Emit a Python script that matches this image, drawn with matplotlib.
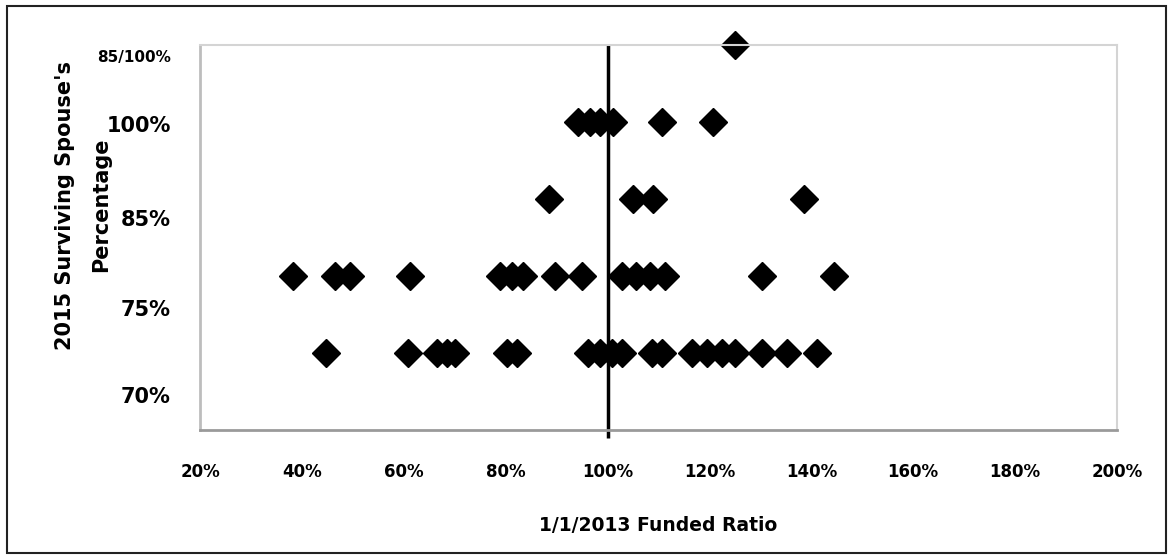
import numpy as np
import matplotlib
matplotlib.use("Agg")
import matplotlib.pyplot as plt
from matplotlib.patches import Rectangle

# Funded ratios (1/1/2013) for each 2015 surviving spouse's percentage category
funded_70 = [0.447, 0.608, 0.665, 0.685, 0.70, 0.803, 0.822,
             0.962, 0.985, 1.009, 1.028, 1.087, 1.107, 1.166, 1.195,
             1.225, 1.25, 1.303, 1.352, 1.411]
funded_75 = [0.383, 0.465, 0.494, 0.612, 0.789, 0.813, 0.834, 0.897, 0.95,
             1.028, 1.056, 1.083, 1.113, 1.303, 1.445]
funded_85 = [0.885, 1.05, 1.09, 1.385]
funded_100 = [0.942, 0.966, 0.985, 1.011, 1.107, 1.207]
funded_85_100 = [1.25]

categories = ["70%", "75%", "85%", "100%", "85/100%"]
series = [funded_70, funded_75, funded_85, funded_100, funded_85_100]

x_ticks = [0.2, 0.4, 0.6, 0.8, 1.0, 1.2, 1.4, 1.6, 1.8, 2.0]
x_labels = ["20%", "40%", "60%", "80%", "100%", "120%", "140%", "160%", "180%", "200%"]

# where the (slightly misplaced) category labels sit on the y axis
y_label_pos = [0.45, 1.58, 2.75, 3.97, 4.86]
y_label_size = [15, 15, 15, 15, 11]

plt.rcParams['font.family'] = ['DejaVu Sans']
plt.rcParams['font.weight'] = 'bold'

fig = plt.figure(figsize=(11.74, 5.59), dpi=100)
ax = fig.add_axes([200 / 1174, 1 - 430 / 559, 917 / 1174, 385 / 559])

for i, xs in enumerate(series):
    ax.plot(xs, np.full(len(xs), i + 1), linestyle='none', marker='D',
            markersize=14, color='black', clip_on=False)

# 100% funded reference line
ax.vlines(1.0, -0.1, 5, color='black', linewidth=2.5, clip_on=False)

ax.set_xlim(0.2, 2.0)
ax.set_ylim(0, 5)
ax.set_xticks(x_ticks)
ax.set_xticklabels(x_labels, fontsize=12, fontweight='bold')
ax.tick_params(axis='x', length=0, pad=24)

ax.set_yticks(y_label_pos)
ax.set_yticklabels(categories, fontweight='bold')
for lab, fs in zip(ax.get_yticklabels(), y_label_size):
    lab.set_fontsize(fs)
ax.tick_params(axis='y', length=0, pad=21)

for side in ['top', 'right']:
    ax.spines[side].set_color('#d4d4d4')
    ax.spines[side].set_linewidth(1.5)
ax.spines['left'].set_color('#bdbdbd')
ax.spines['left'].set_linewidth(2)
ax.spines['bottom'].set_color('#9a9a9a')
ax.spines['bottom'].set_linewidth(2)

ax.set_xlabel("1/1/2013 Funded Ratio", fontsize=13.5, fontweight='bold', labelpad=25)
ax.set_ylabel("2015 Surviving Spouse's\nPercentage", fontsize=15,
              fontweight='bold', linespacing=2.0)
ax.yaxis.set_label_coords(-0.097, 0.584)

# outer border around the whole figure
fig.patches.append(Rectangle((7 / 1174, 6 / 559), 1159 / 1174, 547 / 559,
                             transform=fig.transFigure, fill=False,
                             edgecolor='#222222', linewidth=1.5))

fig.savefig("out.png", dpi=100)
